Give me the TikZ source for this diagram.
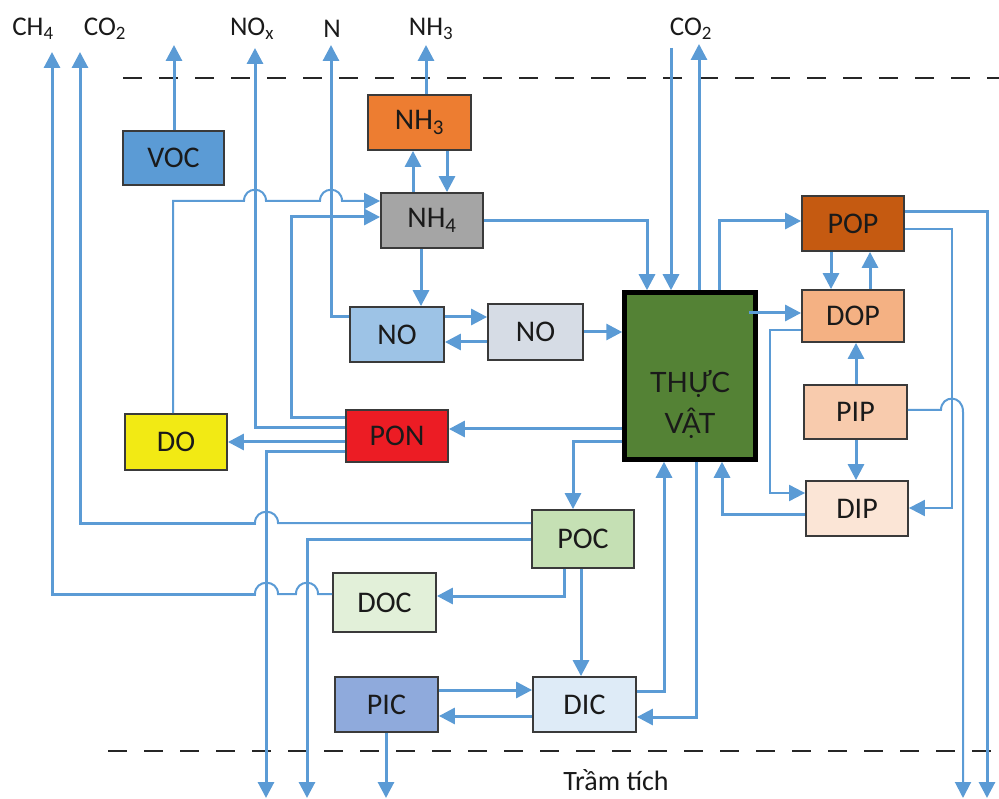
\documentclass[tikz,border=0pt]{standalone}
\usepackage{fontspec}
\setmainfont{Carlito}
\newfontfamily\latofont{Lato}
\usetikzlibrary{arrows.meta}
\definecolor{lnc}{HTML}{5B9BD5}
\definecolor{cVOC}{HTML}{5B9BD5}
\definecolor{cNHt}{HTML}{ED7D31}
\definecolor{cNHf}{HTML}{A5A5A5}
\definecolor{cNOa}{HTML}{9DC3E6}
\definecolor{cNOb}{HTML}{D6DCE5}
\definecolor{cTHV}{HTML}{548235}
\definecolor{cPOP}{HTML}{C55A11}
\definecolor{cDOP}{HTML}{F4B183}
\definecolor{cPIP}{HTML}{F8CBAD}
\definecolor{cDIP}{HTML}{FBE5D6}
\definecolor{cDO}{HTML}{F2EA14}
\definecolor{cPON}{HTML}{EC1C24}
\definecolor{cPOC}{HTML}{C5E0B4}
\definecolor{cDOC}{HTML}{E2F0D9}
\definecolor{cPIC}{HTML}{8FAADC}
\definecolor{cDIC}{HTML}{DEEBF7}
\definecolor{bord}{HTML}{3A3A3A}
\definecolor{txt}{HTML}{1A1A1A}
\begin{document}
\begin{tikzpicture}[x=1pt,y=-1pt,
 box/.style={draw=bord,line width=1.8pt,inner sep=0pt,text=txt,font=\fontsize{30}{32}\selectfont},
 lbl/.style={inner sep=0pt,text=txt,font=\fontsize{27}{29}\selectfont},
 fl/.style={draw=lnc,line width=3pt,-{Triangle[length=16pt,width=16pt]}},
 fln/.style={draw=lnc,line width=2pt,-{Triangle[length=16pt,width=16pt]}},
 pipe/.style={draw=lnc,line width=3pt},
 pipethin/.style={draw=lnc,line width=2pt},
 sepline/.style={draw=black!85,line width=2pt,dash pattern=on 19pt off 17pt},
]
\useasboundingbox (0,0) rectangle (999,799);

% separators
\draw[sepline] (123,78) -- (999,78);
\draw[sepline] (108,751) -- (999,751);

% labels
\node[lbl] (lCH4) at (33,29) {CH\textsubscript{4}};
\node[lbl] (lCO2a) at (105,29) {CO\textsubscript{2}};
\node[lbl] (lNOx) at (252,29) {NO\textsubscript{x}};
\node[lbl] (lN) at (332,29) {N};
\node[lbl] (lNH3) at (431,29) {NH\textsubscript{3}};
\node[lbl] (lCO2b) at (691,29) {CO\textsubscript{2}};
\node[lbl,font=\fontsize{28}{30}\selectfont] (lSed) at (616,780) {Trầm tích};

% boxes
\node[box,fill=cVOC,minimum width=101,minimum height=54] (VOC) at (173.5,158) {VOC};
\node[box,fill=cNHt,minimum width=103,minimum height=55] (NHt) at (419.5,122.5) {NH\textsubscript{3}};
\node[box,fill=cNHf,minimum width=102,minimum height=55] (NHf) at (432,220.5) {NH\textsubscript{4}};
\node[box,fill=cNOa,minimum width=94,minimum height=55] (NOa) at (397,334.5) {NO};
\node[box,fill=cNOb,minimum width=95,minimum height=56] (NOb) at (535.5,332) {NO};
\node[box,fill=cTHV,draw=black,line width=4.5pt,minimum width=131,minimum height=167] (THV) at (690,376) {};
\node[inner sep=0pt,align=center,text=txt,font=\latofont\fontsize{28}{41}\selectfont] (tTHV) at (690,405) {THỰC\\VẬT};
\node[box,fill=cPOP,minimum width=102,minimum height=55] (POP) at (853,223.5) {POP};
\node[box,fill=cDOP,minimum width=102,minimum height=52] (DOP) at (853,316) {DOP};
\node[box,fill=cPIP,minimum width=103,minimum height=54] (PIP) at (855.5,412) {PIP};
\node[box,fill=cDIP,minimum width=102,minimum height=55] (DIP) at (857,508.5) {DIP};
\node[box,fill=cDO,minimum width=102,minimum height=56] (DO) at (176,442) {DO};
\node[box,fill=cPON,minimum width=102,minimum height=52] (PON) at (397,436) {PON};
\node[box,fill=cPOC,minimum width=102,minimum height=58] (POC) at (583,539) {POC};
\node[box,fill=cDOC,minimum width=103,minimum height=59] (DOC) at (384.5,602.5) {DOC};
\node[box,fill=cPIC,minimum width=103,minimum height=55] (PIC) at (386.5,704.5) {PIC};
\node[box,fill=cDIC,minimum width=103,minimum height=55] (DIC) at (584.5,704.5) {DIC};

% free ends
\coordinate (tCH4) at (52,52);
\coordinate (tCO2a) at (80,52);
\coordinate (tVOC) at (174,45);
\coordinate (tNOx) at (255,48);
\coordinate (tN) at (331,45);
\coordinate (tNH3) at (426,45);
\coordinate (sCO2) at (671,48);
\coordinate (tCO2b) at (699,44);
\coordinate (bPON) at (266,798);
\coordinate (bPOC) at (307,798);
\coordinate (bPIC) at (386,798);
\coordinate (bPIP) at (963,798);
\coordinate (bPOP) at (987,798);

% connectors
\draw[fl] (VOC.north -| tVOC) -- (tVOC);
\draw[fl] (NHt.north -| tNH3) -- (tNH3);
\draw[fl] (NHf.north -| 413,0) -- (NHt.south -| 413,0);
\draw[fl] (NHt.south -| 447,0) -- (NHf.north -| 447,0);
\draw[fl] (PON.west |- 0,428) -| (tNOx);
\draw[fl] (NOa.west |- 0,317) -| (tN);
\draw[fln] (DO.north -| 173,0) -- (173,201) -- (244,201)
   .. controls (244,186) and (266,186) .. (266,201) -- (320,201)
   .. controls (320,186) and (342,186) .. (342,201) -- (NHf.west |- 0,201);
\draw[fl] (PON.west |- 0,418) -- (291,418) |- (NHf.west |- 0,217);
\draw[fl] (NHf.south -| 421,0) -- (NOa.north -| 421,0);
\draw[fl] (NOa.east |- 0,317) -- (NOb.west |- 0,317);
\draw[fl] (NOb.west |- 0,342) -- (NOa.east |- 0,342);
\draw[fl] (NOb.east |- 0,332) -- (THV.west |- 0,332);
\draw[fl] (NHf.east |- 0,221) -| (THV.north -| 647,0);
\draw[fl] (sCO2) -- (THV.north -| sCO2);
\draw[fl] (THV.north -| tCO2b) -- (tCO2b);
\draw[fl] (THV.north -| 719,0) |- (POP.west |- 0,221);
\draw[fl,shorten <=-9pt] (THV.east |- 0,313) -- (DOP.west |- 0,313);
\draw[fl] (POP.south -| 831,0) -- (DOP.north -| 831,0);
\draw[fl] (DOP.north -| 870,0) -- (POP.south -| 870,0);
\draw[fl] (PIP.north -| 856,0) -- (DOP.south -| 856,0);
\draw[fl] (PIP.south -| 856,0) -- (DIP.north -| 856,0);
\draw[fln] (DOP.west |- 0,330) -- (770,330) |- (DIP.west |- 0,493);
\draw[fl] (DIP.west |- 0,514) -| (THV.south -| 722,0);
\draw[fl] (POP.east |- 0,212) -| (bPOP);
\draw[fln] (POP.east |- 0,229) -- (952,229) |- (DIP.east |- 0,508);
\draw[fln] (PIP.east |- 0,410) -- (941,410)
   .. controls (941,395) and (963,394) .. (963,412) -- (bPIP);
\draw[fl] (THV.west |- 0,429) -- (PON.east |- 0,429);
\draw[fl] (PON.west |- 0,442) -- (DO.east |- 0,442);
\draw[fl] (PON.west |- 0,452) -| (bPON);
\draw[fl] (THV.west |- 0,442) -| (POC.north -| 573,0);
\draw[fl] (POC.south -| 564,0) |- (DOC.east |- 0,596);
\draw[fl] (POC.south -| 581,0) -- (DIC.north -| 581,0);
\draw[fl] (PIC.east |- 0,690) -- (DIC.west |- 0,690);
\draw[fl] (DIC.west |- 0,716) -- (PIC.east |- 0,716);
\draw[fl] (DIC.east |- 0,691) -| (THV.south -| 664,0);
\draw[fl] (THV.south -| 696,0) |- (DIC.east |- 0,717);
\draw[fl] (PIC.south -| bPIC) -- (bPIC);
\draw[fl] (POC.west |- 0,539) -| (bPOC);
% to CO2 (left)
\draw[pipethin] (POC.west |- 0,523) -- (278,523)
   .. controls (278,508) and (255,508) .. (255,523);
\draw[fl] (256,523) -| (tCO2a);
% to CH4
\draw[pipethin] (DOC.west |- 0,594) -- (318,594)
   .. controls (318,579) and (296,579) .. (296,594) -- (278,594)
   .. controls (278,579) and (255,579) .. (255,594);
\draw[fl] (256,594) -| (tCH4);
\end{tikzpicture}
\end{document}
